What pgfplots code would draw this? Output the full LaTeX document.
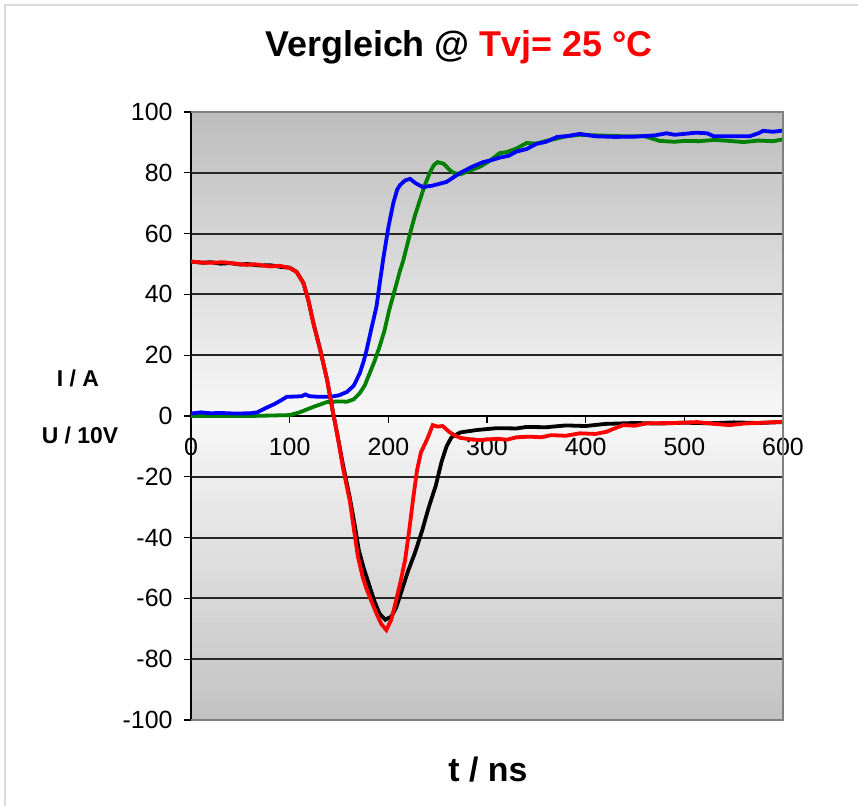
\documentclass[border=0pt]{standalone}
\usepackage{pgfplots}
\pgfplotsset{compat=1.18}
\usepackage{fontspec}
\setmainfont{Liberation Sans}

\definecolor{curvegreen}{RGB}{0,128,0}
\definecolor{framegray}{RGB}{128,128,128}
\definecolor{outergray}{RGB}{218,218,218}

% measured traces (t in ns, I in A / U in 10 V)
\pgfplotstableread{
t v
0 50.8
12 50.4
20 50.6
30 50.1
40 50.3
50 49.8
57 50.0
70 49.5
80 49.6
92 49.0
100 48.8
107 47.4
114 43.7
119 38
124 30.6
131 21.7
138 11.8
144 1
148 -5.6
154 -16
161 -27
166 -36
170 -44
175 -50
181 -56
186 -61
191 -65
197 -67
203 -66
208 -63
213 -58
220 -51
227 -45
234 -38
241 -30
248 -23
254 -15
259 -10
264 -7
273 -5.4
290 -4.6
310 -4
330 -4.1
340 -3.6
360 -3.7
380 -3.1
400 -3.3
420 -2.6
450 -2.3
475 -2.5
500 -2.2
525 -2.4
550 -2.1
575 -2.3
600 -2
}\blacktrace

\pgfplotstableread{
t v
0 50.8
10 50.5
20 50.4
33 50.6
40 50.3
57 49.7
65 49.9
80 49.2
90 49.4
100 48.7
107 47.4
114 43.7
119 38
124 30.6
131 21.7
138 11.8
144 1
148 -5.6
154 -17
161 -28
165 -37
169 -46
174 -53
178 -57
183 -61
188 -65
193 -68.5
198 -70.4
203 -67
208 -60.5
212 -55
217 -47.4
221 -38
225 -27.6
229 -18
233 -12
239 -7.9
245 -3
250 -3.5
255 -3.3
262 -5.3
268 -6.5
273 -7.2
286 -7.8
293 -7.9
310 -7.5
320 -7.8
330 -7
343 -6.8
355 -7.0
365 -6.3
380 -6.5
394 -5.7
410 -5.9
421 -5.2
430 -4
438 -3
450 -3.2
462 -2.4
490 -2.3
513 -2
530 -2.6
546 -3
560 -2.5
580 -2.2
600 -1.9
}\redtrace

\pgfplotstableread{
t v
0 0
60 0
100 0.3
110 1.2
124 3
138 4.6
150 4.8
158 4.7
165 5.5
171 7.5
176 10
181 14
186 18
191 22.7
196 28
201 35
207 42
212 48
215 51
222 60
227 66
232 71
237 76
242 80
246 82.5
250 83.5
256 83
262 81
266 80
273 79.5
285 81
293 82
303 84
313 86.5
320 86.8
330 88
340 89.8
350 89.6
360 90.5
370 91.2
380 92
394 92.5
420 92.2
440 92.0
460 92
475 90.5
490 90.2
500 90.5
515 90.4
530 90.8
545 90.5
560 90.1
575 90.6
590 90.4
600 91
}\greentrace

\pgfplotstableread{
t v
0 0.8
10 1.2
20 0.9
30 1
45 0.8
60 0.9
67 1.2
75 2.5
85 4
92 5.3
97 6.3
105 6.4
112 6.5
116 7.1
120 6.5
130 6.3
141 6.3
150 6.8
158 7.9
165 10
171 14
175 18
178 21.7
183 29
188 36
191 43
195 52
200 62
205 70
209 74.5
212 76
217 77.5
222 78
228 76.5
235 75.3
245 75.8
259 77
273 80
285 82
296 83.5
305 84.2
313 85
322 85.6
330 87
340 87.8
350 89.5
360 90.2
371 91.8
382 92.1
394 92.8
410 92
430 91.8
450 91.9
470 92.3
482 93
490 92.5
500 92.8
512 93.2
523 93
530 92
550 92
566 92
575 93
580 93.8
590 93.5
600 93.9
}\bluetrace

\begin{document}
\begin{tikzpicture}
\useasboundingbox (0,0) rectangle (858bp,806bp);
% light outer frame
\draw[outergray, line width=2bp] (5bp,0) -- (5bp,801bp) -- (858bp,801bp);

% plot-area gradient: grey at top and bottom, nearly white at the zero line
\begin{scope}[x=1bp, y=1bp]
\foreach \i in {0,...,99}{
  \pgfmathsetmacro\vm{-100+2*\i+1}
  \pgfmathsetmacro\p{\vm>0 ? 3+23*\vm/100 : 3-21*\vm/100}
  \fill[black!\p] (191,{86+\i*6.08}) rectangle (783,{86+(\i+1)*6.08+0.4});
}
\end{scope}

\begin{axis}[
  at={(191bp,86bp)}, anchor=south west,
  scale only axis, width=592bp, height=608bp,
  xmin=0, xmax=600, ymin=-100, ymax=100,
  axis x line=middle, axis y line=left,
  axis line style={-, black, line width=1.8bp},
  hide obscured x ticks=false, hide obscured y ticks=false,
  xtick={0,100,...,600}, ytick={-100,-80,...,100},
  tick align=outside, major tick length=7bp,
  tick style={black, line width=1.3bp},
  ymajorgrids, grid style={black!85, line width=2bp},
  /pgf/number format/assume math mode=true,
  ticklabel style={font=\fontsize{25}{28}\selectfont},
  yticklabel style={xshift=-8bp},
  xticklabel style={yshift=-12bp},
  clip=false,
]
\addplot[curvegreen, line width=3.8bp] table[x=t, y=v] {\greentrace};
\addplot[blue, line width=3.8bp] table[x=t, y=v] {\bluetrace};
\addplot[black, line width=3.8bp] table[x=t, y=v] {\blacktrace};
\addplot[red, line width=3.8bp] table[x=t, y=v] {\redtrace};
\draw[framegray, line width=2.4bp] (rel axis cs:0,1) -- (rel axis cs:1,1) -- (rel axis cs:1,0) -- (rel axis cs:0,0);
\end{axis}

\node[font=\fontsize{36}{40}\selectfont\bfseries] at (459bp,759bp) {Vergleich @ \textcolor{red}{Tvj= 25 °C}};
\node[font=\fontsize{34}{38}\selectfont\bfseries] at (488bp,36bp) {t / ns};
\node[font=\fontsize{23}{26}\selectfont\bfseries] at (78bp,428bp) {I / A};
\node[font=\fontsize{23}{26}\selectfont\bfseries] at (80bp,371bp) {U / 10V};
\end{tikzpicture}
\end{document}
